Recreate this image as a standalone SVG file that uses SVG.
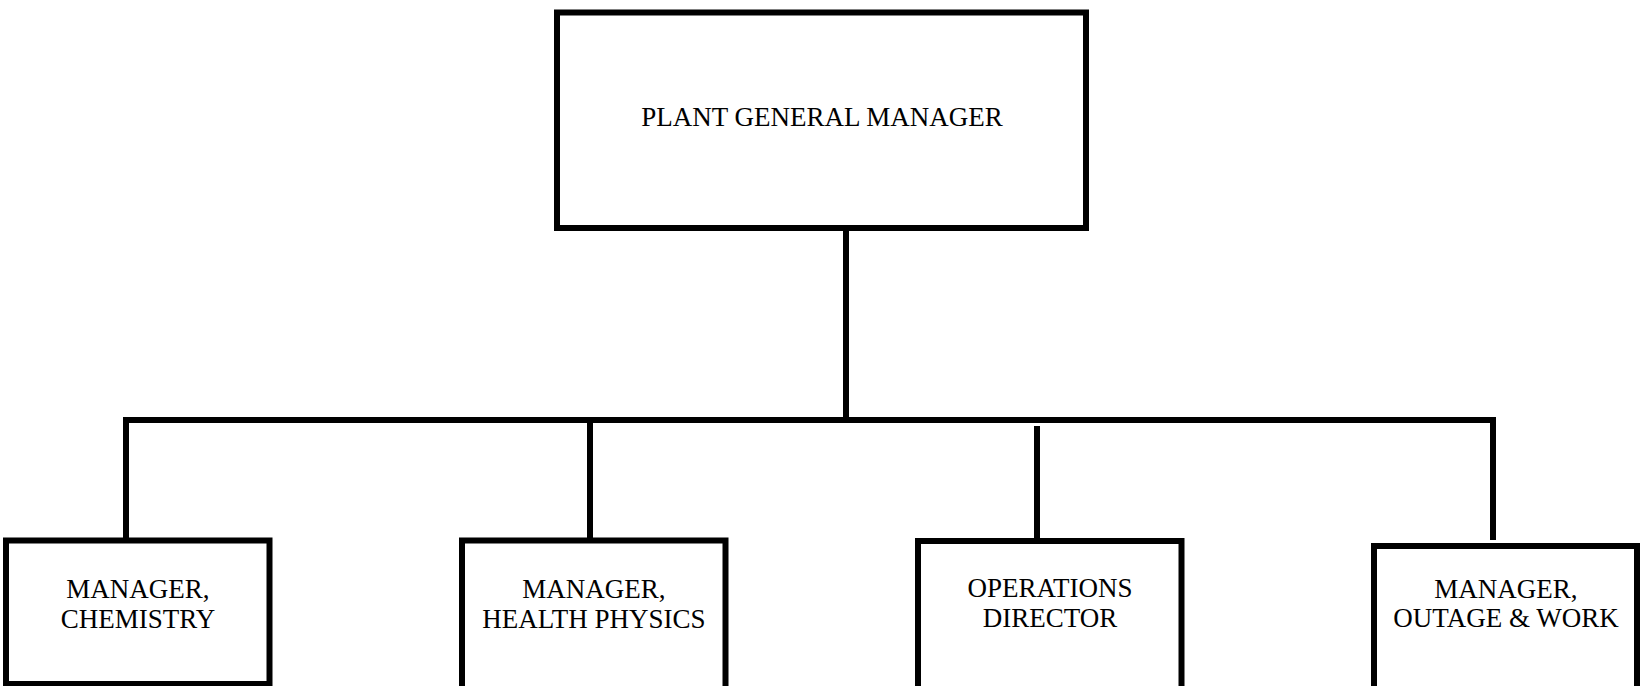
<svg xmlns="http://www.w3.org/2000/svg" width="1648" height="686" viewBox="0 0 1648 686">
<style>
.box{fill:#fff;stroke:#000;stroke-width:6}
.con{fill:none;stroke:#000;stroke-width:6;stroke-linejoin:miter}
text{font-family:"Liberation Serif","Times New Roman",serif;font-size:27px;fill:#000;text-anchor:middle}
</style>
<rect width="1648" height="686" fill="#fff"/>
<g id="connectors">
<path class="con" d="M846,228 V420"/>
<path class="con" d="M126,540 V420 H1493 V540"/>
<path class="con" d="M590,420 V540"/>
<path class="con" d="M1037,426 V546"/>
</g>
<g id="plant-general-manager">
<rect class="box" x="557" y="12.5" width="529" height="215.5"/>
<text x="822" y="126">PLANT GENERAL MANAGER</text>
</g>
<g id="manager-chemistry">
<rect class="box" x="6" y="540.5" width="263.5" height="143.5"/>
<text x="138" y="598">MANAGER,</text>
<text x="138" y="628">CHEMISTRY</text>
</g>
<g id="manager-health-physics">
<rect class="box" x="462" y="540.5" width="263.5" height="150"/>
<text x="594" y="598">MANAGER,</text>
<text x="594" y="628">HEALTH PHYSICS</text>
</g>
<g id="operations-director">
<rect class="box" x="918" y="541" width="263.5" height="150"/>
<text x="1050" y="597">OPERATIONS</text>
<text x="1050" y="627">DIRECTOR</text>
</g>
<g id="manager-outage-work">
<rect class="box" x="1374" y="546" width="263" height="150"/>
<text x="1506" y="598">MANAGER,</text>
<text x="1506" y="627">OUTAGE &amp; WORK</text>
</g>
</svg>
